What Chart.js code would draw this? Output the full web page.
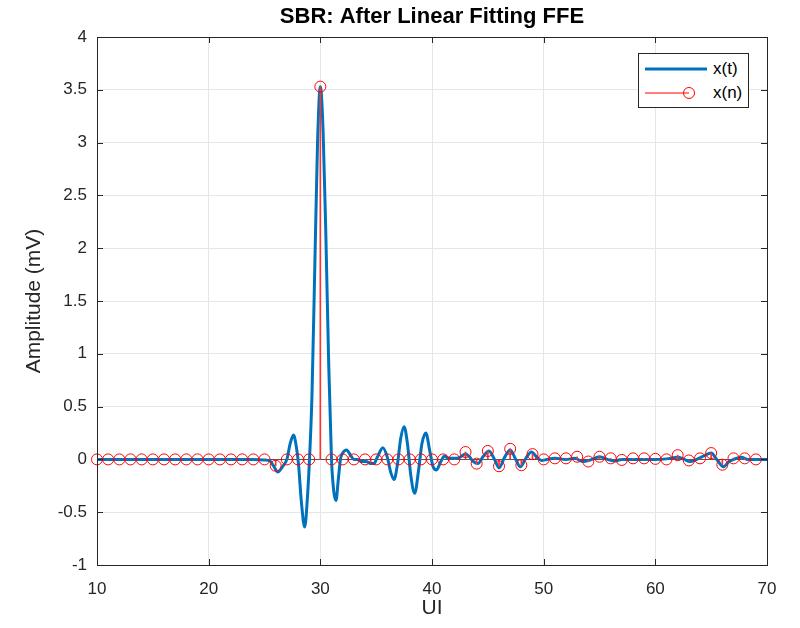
<!DOCTYPE html>
<html>
<head>
<meta charset="utf-8">
<script src="https://cdn.jsdelivr.net/npm/chart.js@4.4.1/dist/chart.umd.min.js"></script>
<style>
  body { margin: 0; background: #fff; }
  #wrap { position: relative; width: 800px; height: 628px; }
  #legend {
    position: absolute; left: 638px; top: 53px; width: 109px; height: 53px;
    border: 1px solid #262626; background: #fff;
    font-family: "Liberation Sans", Arial, sans-serif; font-size: 17px; color: #000;
  }
  .row { position: absolute; left: 6px; height: 20px; display: flex; align-items: center; }
  .row svg { margin-right: 6px; }
</style>
</head>
<body>
<div id="wrap">
  <canvas id="sbr" width="800" height="628"></canvas>
  <div id="legend">
    <div class="row" style="top:5px">
      <svg width="62" height="20"><line x1="0" y1="10" x2="62" y2="10" stroke="#0072BD" stroke-width="3"/></svg>x(t)
    </div>
    <div class="row" style="top:29px">
      <svg width="62" height="20"><line x1="0" y1="10" x2="44" y2="10" stroke="#ff0000" stroke-width="1"/><circle cx="44" cy="10" r="5.5" fill="none" stroke="#ff0000" stroke-width="1"/></svg>x(n)
    </div>
  </div>
</div>
<script>
// continuous waveform x(t) (UI, mV)
const tUI = [10, 15, 20, 24, 25, 25.5, 25.8, 26.2, 26.6, 27.0, 27.3, 27.6, 27.85, 28.05, 28.3, 28.6, 28.85,
  29.05, 29.25, 29.5, 29.75, 30.0, 30.25, 30.5, 30.75, 31.0, 31.2, 31.4, 31.6, 31.8, 32.0, 32.35, 32.7,
  33.0, 33.3, 33.7, 34.1, 34.5, 34.8, 35.1, 35.6, 36.0, 36.3, 36.6, 36.9, 37.2, 37.5, 37.8, 38.1, 38.45,
  38.8, 39.1, 39.45, 39.8, 40.1, 40.4, 40.75, 41.1, 41.5, 42.0, 42.5, 43.0, 43.3, 43.7, 44.1, 44.6, 45.1,
  45.6, 46.0, 46.5, 47.0, 47.5, 47.9, 48.4, 48.9, 49.4, 49.8, 50.3, 51, 52, 52.8, 53.5, 54.2, 55.0, 55.7,
  56.3, 57, 58, 59, 60, 61, 62, 62.6, 63.1, 63.7, 64.3, 65.0, 65.5, 66.1, 66.6, 67.0, 67.7, 68.3, 69, 70];
const xt = [0, 0, 0, 0, -0.005, -0.015, -0.06, -0.12, -0.07, 0.0, 0.15, 0.23, 0.12, -0.05, -0.4, -0.64, -0.35,
  0.05, 0.6, 1.8, 3.0, 3.53, 3.1, 2.1, 0.9, 0.0, -0.3, -0.39, -0.2, 0.0, 0.06, 0.09, 0.04,
  0.0, 0.0, -0.02, -0.02, -0.04, -0.04, 0.02, 0.11, 0.02, -0.12, -0.19, -0.05, 0.2, 0.31, 0.15, -0.15, -0.32,
  -0.1, 0.15, 0.25, 0.08, -0.07, -0.1, -0.03, 0.03, 0.01, 0.01, 0.02, 0.05, 0.03, -0.02, -0.04, 0.03, 0.08,
  0.0, -0.08, 0.02, 0.09, 0.0, -0.07, 0.01, 0.07, 0.02, -0.01, 0.0, 0.01, 0.0, 0.01, -0.02, -0.005, 0.025, 0.0,
  -0.015, 0.0, 0, 0, 0, 0.005, 0.02, 0.0, -0.02, 0.0, 0.03, 0.06, 0.0, -0.07, -0.02, 0.0, 0.02, 0.0, 0, 0];

// sampled x(n) at integer UI
const nUI = [10, 11, 12, 13, 14, 15, 16, 17, 18, 19, 20, 21, 22, 23, 24, 25, 26, 27, 28, 29,
  30, 31, 32, 33, 34, 35, 36, 37, 38, 39, 40, 41, 42, 43, 44, 45, 46, 47, 48, 49,
  50, 51, 52, 53, 54, 55, 56, 57, 58, 59, 60, 61, 62, 63, 64, 65, 66, 67, 68, 69];
const xn = [0, 0, 0, 0, 0, 0, 0, 0, 0, 0, 0, 0, 0, 0, 0, 0, -0.06, 0, 0, 0,
  3.53, 0, 0, 0, 0, 0, 0, 0, 0, 0, 0, 0, 0, 0.07, -0.04, 0.08, -0.065, 0.1, -0.055, 0.05,
  0, 0.01, 0.01, 0.025, -0.02, 0.025, 0.01, -0.005, 0.01, 0.01, 0.005, 0, 0.04, -0.01, 0.01, 0.06, -0.05, 0.01, 0.01, 0];

const xTicks = [10, 20, 30, 40, 50, 60, 70];
const yTicks = [-1, -0.5, 0, 0.5, 1, 1.5, 2, 2.5, 3, 3.5, 4];

const FONT = '"Liberation Sans", Arial, sans-serif';
const waveData = tUI.map((t, i) => ({ x: t, y: xt[i] }));
const sampleData = nUI.map((n, i) => ({ x: n, y: xn[i] }));

// MATLAB style box with inward ticks
const boxPlugin = {
  id: 'box',
  afterDraw(chart) {
    const { ctx, chartArea: a, scales } = chart;
    ctx.save();
    ctx.strokeStyle = '#262626';
    ctx.lineWidth = 1;
    ctx.beginPath();
    scales.x.ticks.forEach(t => {
      const px = Math.round(scales.x.getPixelForValue(t.value)) + 0.5;
      ctx.moveTo(px, a.bottom); ctx.lineTo(px, a.bottom - 6);
      ctx.moveTo(px, a.top); ctx.lineTo(px, a.top + 6);
    });
    scales.y.ticks.forEach(t => {
      const py = Math.round(scales.y.getPixelForValue(t.value)) + 0.5;
      ctx.moveTo(a.left, py); ctx.lineTo(a.left + 6, py);
      ctx.moveTo(a.right, py); ctx.lineTo(a.right - 6, py);
    });
    ctx.stroke();
    ctx.strokeRect(Math.round(a.left) + 0.5, Math.round(a.top) + 0.5,
      Math.round(a.right - a.left), Math.round(a.bottom - a.top));
    ctx.restore();
  }
};

new Chart(document.getElementById('sbr'), {
  type: 'line',
  data: {
    datasets: [
      {
        label: 'x(t)', data: waveData, borderColor: '#0072BD', borderWidth: 3,
        pointRadius: 0, cubicInterpolationMode: 'monotone', order: 3
      },
      {
        type: 'bar', label: 'stem', data: sampleData, backgroundColor: '#ff3030',
        barThickness: 1, order: 2
      },
      {
        label: 'x(n)', data: sampleData, showLine: false, pointRadius: 5.5, clip: false,
        pointBorderColor: '#ff0000', pointBackgroundColor: 'rgba(0,0,0,0)', pointBorderWidth: 1, order: 1
      }
    ]
  },
  options: {
    responsive: false,
    animation: false,
    layout: { padding: { left: 0, right: 33, top: 0, bottom: 0 } },
    plugins: {
      legend: { display: false },
      tooltip: { enabled: false },
      title: {
        display: true, text: 'SBR: After Linear Fitting FFE', fullSize: false, color: '#000',
        font: { family: FONT, size: 22, weight: 'bold' }, padding: { top: 3.5, bottom: 7.1 }
      }
    },
    scales: {
      x: {
        type: 'linear', min: 10, max: 70, offset: false,
        afterBuildTicks: s => { s.ticks = xTicks.map(v => ({ value: v })); },
        afterFit: s => { s.height = 63; },
        grid: { color: '#e6e6e6', drawTicks: false, offset: false },
        border: { display: false },
        ticks: { color: '#262626', padding: 14, font: { family: FONT, size: 17 } },
        title: { display: true, text: 'UI', color: '#262626', font: { family: FONT, size: 21 }, padding: { top: 0, bottom: 7 } }
      },
      y: {
        type: 'linear', min: -1, max: 4,
        afterBuildTicks: s => { s.ticks = yTicks.map(v => ({ value: v })); },
        afterFit: s => { s.width = 97; },
        grid: {
          color: c => (c.tick && c.tick.value === 0 ? '#555555' : '#e6e6e6'),
          drawTicks: false
        },
        border: { display: false },
        ticks: { color: '#262626', padding: 10, font: { family: FONT, size: 17 }, callback: v => String(v) },
        title: { display: true, text: 'Amplitude (mV)', color: '#262626', font: { family: FONT, size: 21 }, padding: { top: 22, bottom: 0 } }
      }
    }
  },
  plugins: [boxPlugin]
});
</script>
</body>
</html>
